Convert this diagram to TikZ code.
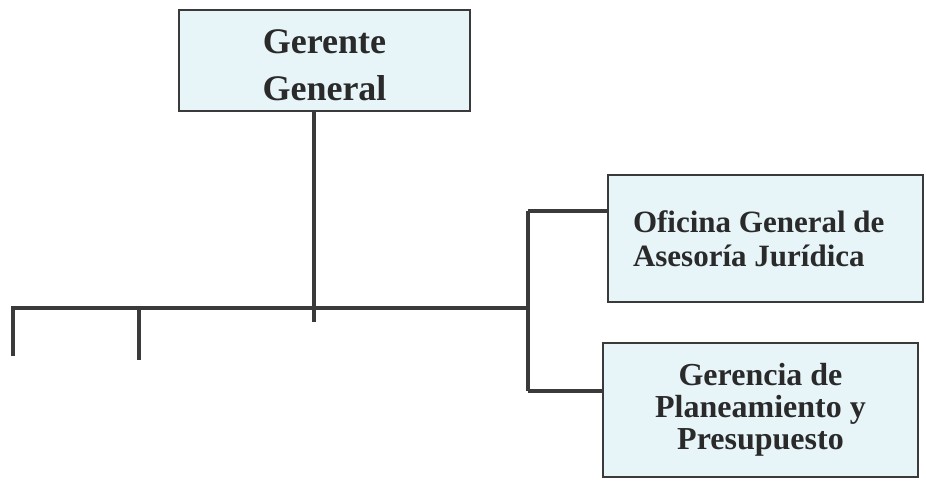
\documentclass[tikz,border=0pt]{standalone}
\usepackage{fontspec}
\setmainfont{Liberation Serif}
\definecolor{boxfill}{HTML}{E7F4F8}
\definecolor{ink}{HTML}{2A2A2A}
\definecolor{edge}{HTML}{3A3A3A}
\begin{document}
\begin{tikzpicture}[x=1pt,y=-1pt,
  unit/.style={draw=edge, line width=1.6pt, fill=boxfill, text=ink,
    font=\bfseries, inner sep=0pt, align=center},
  link/.style={draw=edge, line width=3.6pt}]
\useasboundingbox (0,0) rectangle (926,487);
% boxes
\node[unit, minimum width=291pt, minimum height=101pt,
  font=\bfseries\fontsize{36}{47}\selectfont] (boss) at (324.5,60.5)
  {\rule{0pt}{34pt}Gerente\\General};
\node[unit, minimum width=315pt, minimum height=127pt,
  text width=265pt, align=flush left,
  font=\bfseries\fontsize{31}{34}\selectfont] (ofi) at (765.5,238.5)
  {Oficina General de\\Asesoría Jurídica};
\node[unit, minimum width=315pt, minimum height=134pt,
  font=\bfseries\fontsize{32}{32}\selectfont] (pla) at (760.5,410)
  {Gerencia de\\Planeamiento y\\Presupuesto};
% junction points of the connector tree
\coordinate (hl) at (13,308);
\coordinate (hr) at (528,308);
\coordinate (d1) at (13,356);
\coordinate (d2top) at (139,308);
\coordinate (d2) at (139,360);
\coordinate (tend) at (314,322);
\coordinate (ro) at (528,211);
\coordinate (rp) at (528,391);
% connectors
\draw[link] (boss.south -| tend) -- (tend);
\draw[link] (d1) -- (hl) -- (hr);
\draw[link] (d2top) -- (d2);
\draw[link] (ro) -- (rp);
\draw[link] (ro) -- (ro -| ofi.west);
\draw[link] (rp) -- (rp -| pla.west);
\end{tikzpicture}
\end{document}
